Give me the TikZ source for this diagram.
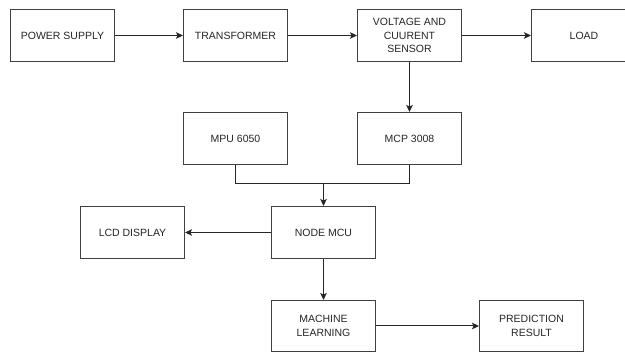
\documentclass[tikz,border=0pt]{standalone}
\usepackage{fontspec}
\setmainfont{Liberation Sans}
\usetikzlibrary{arrows.meta}
\begin{document}
\begin{tikzpicture}[x=1pt,y=-1pt,
  blk/.style={draw=black!75,line width=1pt,minimum width=104pt,minimum height=52pt,inner sep=1pt,
    align=center,font=\fontsize{10.5}{13.3}\selectfont,text=black!85,anchor=north west},
  conn/.style={draw=black!85,line width=1pt,-{Stealth[length=7pt,width=6.5pt,inset=1.5pt]}},
  link/.style={draw=black!85,line width=1pt}]
\useasboundingbox (0,0) rectangle (625,352);
\fill[white] (0,0) rectangle (625,352);
\begin{scope}
\clip (0,0) rectangle (625,352);
\node[blk] (ps) at (10,9) {POWER SUPPLY};
\node[blk] (tr) at (183,9) {TRANSFORMER};
\node[blk] (vs) at (357,9) {VOLTAGE AND\\CUURENT\\SENSOR};
\node[blk,minimum width=105pt] (ld) at (531,9) {LOAD};
\node[blk] (mpu) at (183,112) {MPU 6050};
\node[blk] (mcp) at (357,112) {MCP 3008};
\node[blk] (mcu) at (271,206) {NODE MCU};
\node[blk] (lcd) at (80,206) {LCD DISPLAY};
\node[blk,minimum height=51pt] (ml) at (271,300) {MACHINE\\LEARNING};
\node[blk,minimum height=51pt] (pr) at (479,300) {PREDICTION\\RESULT};
\coordinate (j) at (mcu.north |- 0,184);
\draw[conn] (ps) -- (tr);
\draw[conn] (tr) -- (vs);
\draw[conn] (vs) -- (ld);
\draw[conn] (vs) -- (mcp);
\draw[link] (mpu.south) |- (j);
\draw[link] (mcp.south) |- (j);
\draw[conn] (j) -- (mcu.north);
\draw[conn] (mcu) -- (lcd);
\draw[conn] (mcu) -- (ml);
\draw[conn] (ml) -- (pr);
\end{scope}
\end{tikzpicture}
\end{document}
